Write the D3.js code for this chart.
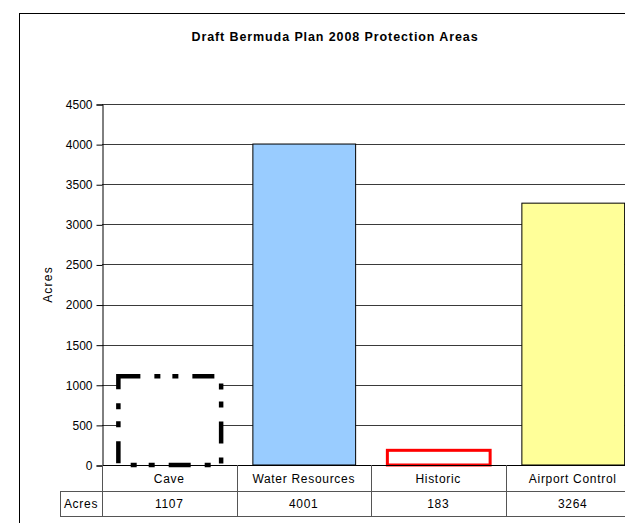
<!DOCTYPE html>
<html>
<head>
<meta charset="utf-8">
<script src="https://cdn.jsdelivr.net/npm/d3@7"></script>
<style>
  html, body { margin: 0; padding: 0; background: #fff; }
  svg { display: block; font-family: "Liberation Sans", Arial, sans-serif; }
</style>
</head>
<body>
<svg id="chart" width="625" height="523"></svg>
<script>
// Protection area sizes (acres) from the draft Bermuda Plan 2008
const categories = ["Cave", "Water Resources", "Historic", "Airport Control"];
const acres = [1107, 4001, 183, 3264];
const yTicks = [0, 500, 1000, 1500, 2000, 2500, 3000, 3500, 4000, 4500];
const seriesName = "Acres";

// Per-bar styling
const barStyles = [
  { fill: "#ffffff", stroke: "#000000", width: 4.5, dash: "22,14,6,12,6,14" },
  { fill: "#99ccff", stroke: "#000000", width: 1, dash: null },
  { fill: "#ffffff", stroke: "#ff0000", width: 3, dash: null },
  { fill: "#ffff99", stroke: "#000000", width: 1, dash: null }
];

const svg = d3.select("#chart");

// Chart frame
svg.append("rect")
  .attr("x", 19.5).attr("y", 13.5)
  .attr("width", 640).attr("height", 540)
  .attr("fill", "#fff").attr("stroke", "#000").attr("stroke-width", 1);

const plot = { left: 102, top: 104, bottom: 465, step: 134.5 };

const x = d3.scaleBand()
  .domain(categories)
  .range([plot.left, plot.left + plot.step * categories.length])
  .padding(0);

const y = d3.scaleLinear()
  .domain([0, 4500])
  .range([plot.bottom, plot.top]);

// Horizontal gridlines
svg.append("g")
  .selectAll("line")
  .data(yTicks.filter(d => d > 0))
  .join("line")
  .attr("x1", plot.left).attr("x2", 700)
  .attr("y1", d => Math.round(y(d)) + 0.5).attr("y2", d => Math.round(y(d)) + 0.5)
  .attr("stroke", "#3a3a3a").attr("stroke-width", 1);

// Y axis with outward ticks
const yAxis = svg.append("g")
  .attr("transform", `translate(${plot.left + 0.5},0.5)`)
  .call(d3.axisLeft(y).tickValues(yTicks).tickSize(6).tickPadding(4).tickFormat(d3.format("d")));
yAxis.select(".domain").attr("stroke", "#000");
yAxis.selectAll(".tick line").attr("stroke", "#000");
yAxis.selectAll(".tick text")
  .attr("font-size", 12).attr("fill", "#000")
  .attr("font-family", "'Liberation Sans', Arial, sans-serif");

// Bars
const barPad = 0.118;
svg.append("g")
  .selectAll("rect")
  .data(categories.map((c, i) => ({ c, v: acres[i], s: barStyles[i] })))
  .join("rect")
  .attr("x", d => x(d.c) + x.bandwidth() * barPad + 0.5)
  .attr("width", x.bandwidth() * (1 - 2 * barPad))
  .attr("y", d => y(d.v))
  .attr("height", d => y(0) - y(d.v))
  .attr("fill", d => d.s.fill)
  .attr("stroke", d => d.s.stroke)
  .attr("stroke-width", d => d.s.width)
  .attr("stroke-dasharray", d => d.s.dash);

// Base line of the plot
svg.append("line")
  .attr("x1", plot.left).attr("x2", 700)
  .attr("y1", plot.bottom + 0.5).attr("y2", plot.bottom + 0.5)
  .attr("stroke", "#000");

// Data table under the axis
const row1 = plot.bottom, row2 = 491, row3 = 516, labelLeft = 60;
const table = svg.append("g").attr("stroke", "#555").attr("stroke-width", 1);
table.append("line").attr("x1", labelLeft).attr("x2", 700)
  .attr("y1", row2 + 0.5).attr("y2", row2 + 0.5);
table.append("line").attr("x1", labelLeft).attr("x2", 700)
  .attr("y1", row3 + 0.5).attr("y2", row3 + 0.5);
table.append("line").attr("x1", labelLeft + 0.5).attr("x2", labelLeft + 0.5)
  .attr("y1", row2).attr("y2", row3);
table.selectAll("line.col")
  .data(categories.concat(["_end"]))
  .join("line")
  .attr("class", "col")
  .attr("x1", (d, i) => Math.round(plot.left + i * x.step()) + 0.5)
  .attr("x2", (d, i) => Math.round(plot.left + i * x.step()) + 0.5)
  .attr("y1", row1).attr("y2", row3);

const textStyle = sel => sel
  .attr("font-size", 12).attr("fill", "#000")
  .attr("letter-spacing", 0.7)
  .attr("text-anchor", "middle");

svg.append("g").selectAll("text")
  .data(categories)
  .join("text")
  .attr("x", d => x(d) + x.bandwidth() / 2)
  .attr("y", (row1 + row2) / 2 + 4.5)
  .text(d => d)
  .call(textStyle);

svg.append("g").selectAll("text")
  .data(categories.map((c, i) => ({ c, v: acres[i] })))
  .join("text")
  .attr("x", d => x(d.c) + x.bandwidth() / 2)
  .attr("y", (row2 + row3) / 2 + 4.5)
  .text(d => d.v)
  .call(textStyle);

svg.append("text")
  .attr("x", (labelLeft + plot.left) / 2)
  .attr("y", (row2 + row3) / 2 + 4.5)
  .text(seriesName)
  .call(textStyle);

// Axis title
svg.append("text")
  .attr("transform", `translate(52,${(plot.top + plot.bottom) / 2}) rotate(-90)`)
  .attr("text-anchor", "middle")
  .attr("font-size", 12).attr("letter-spacing", 1.2)
  .text("Acres");

// Chart title
svg.append("text")
  .attr("x", 335).attr("y", 41)
  .attr("text-anchor", "middle")
  .attr("font-size", 12.5).attr("font-weight", "bold").attr("letter-spacing", 0.9)
  .text("Draft Bermuda Plan 2008 Protection Areas");
</script>
</body>
</html>
